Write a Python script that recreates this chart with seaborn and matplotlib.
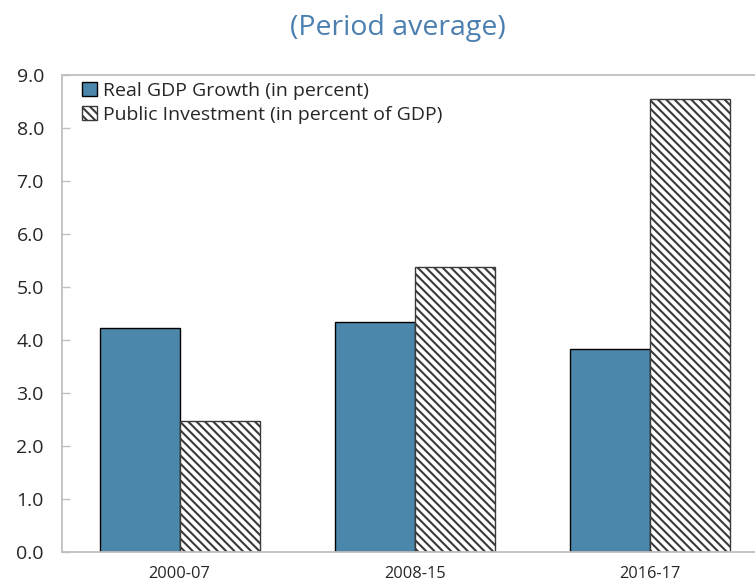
import pandas as pd
import matplotlib.pyplot as plt
import seaborn as sns
from matplotlib.patches import Patch
from matplotlib.ticker import FixedLocator

# ===== DATA =====
periods = ['2000-07', '2008-15', '2016-17']
gdp_growth = [4.24, 4.34, 3.84]
public_inv = [2.47, 5.38, 8.55]
series_names = ['Real GDP Growth (in percent)', 'Public Investment (in percent of GDP)']

df = pd.DataFrame({
    'period': periods * 2,
    'value': gdp_growth + public_inv,
    'series': [series_names[0]] * 3 + [series_names[1]] * 3,
})

# ===== STYLE =====
sns.set_style('white')
plt.rcParams['font.family'] = ['Open Sans', 'DejaVu Sans']
plt.rcParams['hatch.linewidth'] = 1.5
plt.rcParams['hatch.color'] = '#3a3a3a'

blue = '#4a87ab'
title_blue = '#4a7fb0'
frame_gray = '#bfbfbf'
hatch_pat = '\\\\\\\\'

fig = plt.figure(figsize=(7.55, 5.82), dpi=100)
ax = fig.add_axes([0.0821, 0.0507, 0.9345, 0.8204])

sns.barplot(data=df, x='period', y='value', hue='series', hue_order=series_names,
            palette=[blue, 'white'], width=0.68, ax=ax, legend=False,
            edgecolor='black', linewidth=1.0, saturation=1)

# hatch the second series
for patch in ax.containers[1]:
    patch.set_hatch(hatch_pat)
    patch.set_edgecolor('#3a3a3a')
    patch.set_facecolor('white')

ax.set_xlim(-0.5, 2.5)
ax.set_ylim(0, 9)
ax.set_yticks([i for i in range(10)])
ax.set_yticklabels([f'{i:.1f}' for i in range(10)], fontsize=14)
ax.set_xlabel('')
ax.set_ylabel('')

ax.tick_params(axis='x', which='major', length=0, labelsize=11.8, pad=10)
ax.xaxis.set_minor_locator(FixedLocator([0.5, 1.5]))
ax.tick_params(axis='x', which='minor', direction='in', length=6, color=frame_gray, width=1)
ax.tick_params(axis='y', direction='in', length=6, color=frame_gray, width=1, pad=13, left=True)

for s in ax.spines.values():
    s.set_color(frame_gray)
    s.set_linewidth(1.3)

legend_handles = [
    Patch(facecolor=blue, edgecolor='black', linewidth=1.0, label=series_names[0]),
    Patch(facecolor='white', edgecolor='#3a3a3a', hatch=hatch_pat, linewidth=1.0, label=series_names[1]),
]
ax.legend(handles=legend_handles, loc='upper left', bbox_to_anchor=(0.012, 1.01),
          frameon=False, fontsize=14, handlelength=0.75, handleheight=0.75,
          handletextpad=0.3, labelspacing=0.3, borderaxespad=0.2)

fig.text(0.527, 0.952, '(Period average)', ha='center', va='center',
         fontsize=20.5, color=title_blue)

fig.savefig('out.png', dpi=100)
